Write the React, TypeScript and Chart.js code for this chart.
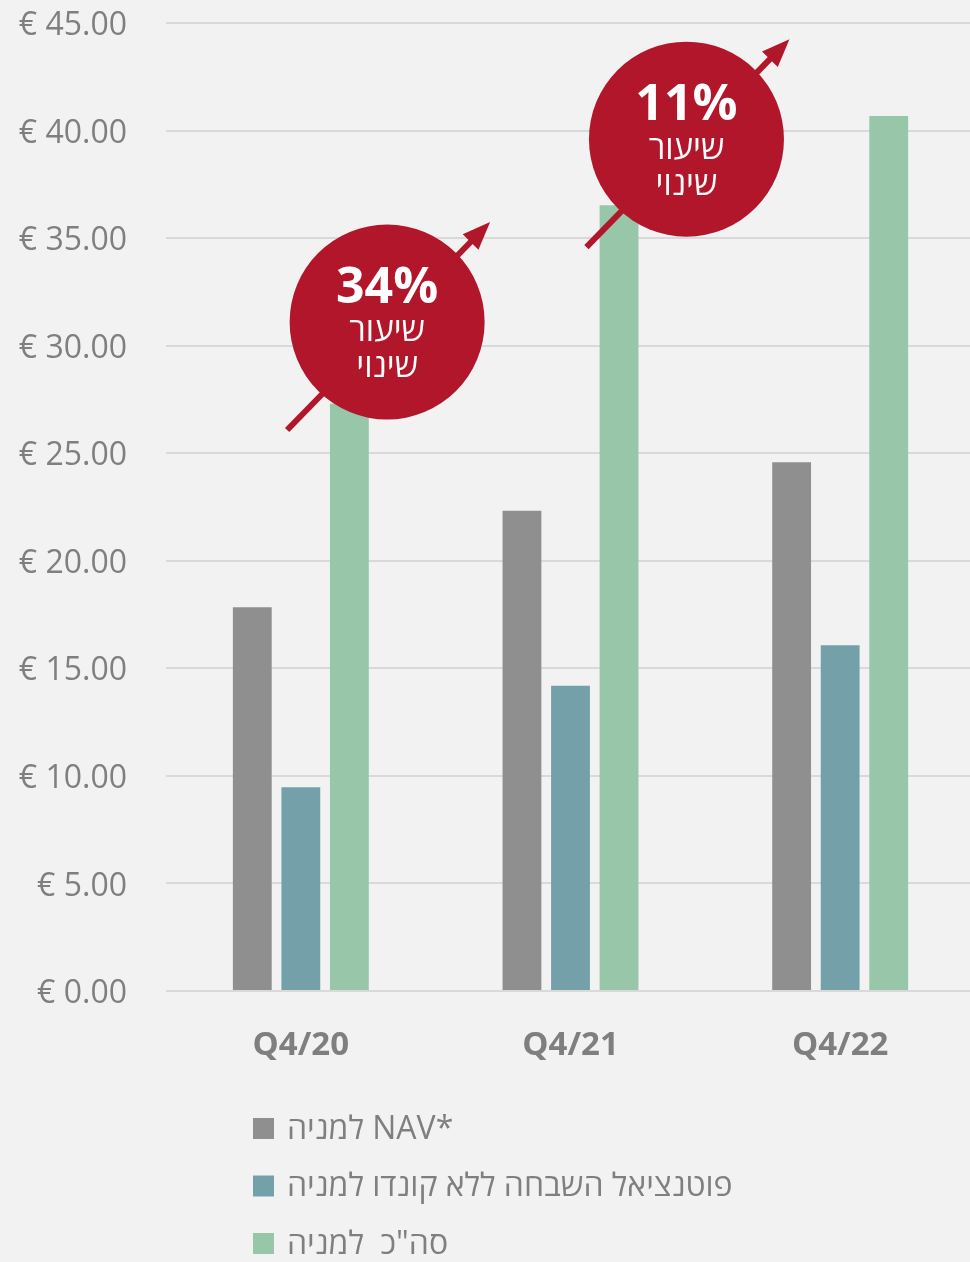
import React, { useEffect, useRef } from "react";
import { Chart, registerables } from "chart.js";

Chart.register(...registerables);

const categories = ["Q4/20", "Q4/21", "Q4/22"];
const navValues = [17.84, 22.33, 24.58];
const potentialValues = [9.47, 14.19, 16.07];
const totalValues = [27.3, 36.53, 40.68];
const seriesLabels = [
  "למניה NAV*",
  "פוטנציאל השבחה ללא קונדו למניה",
  'סה"כ  למניה',
];
const seriesColors = ["#8f8f8f", "#74a0a9", "#97c6a8"];
const yTicks = [0, 5, 10, 15, 20, 25, 30, 35, 40, 45];
const changeLabels = ["34%", "11%"];
const changeX = [0.32, 1.43];
const changeY = [31.1, 39.6];
const changeText = ["שיעור", "שינוי"];

const FONT = "'Open Sans', 'DejaVu Sans', sans-serif";
const RED = "#b2162b";

const annotationPlugin = {
  id: "changeBubbles",
  afterDatasetsDraw(chart: any) {
    const ctx = chart.ctx;
    const xs = chart.scales.x;
    const ys = chart.scales.y;
    changeLabels.forEach((lab, i) => {
      const cx = xs.getPixelForValue(changeX[i]);
      const cy = ys.getPixelForValue(changeY[i]);
      ctx.save();
      const x0 = cx - 100, y0 = cy + 108;
      const x1 = cx + 103, y1 = cy - 100;
      const ang = Math.atan2(y1 - y0, x1 - x0);
      ctx.strokeStyle = RED;
      ctx.fillStyle = RED;
      ctx.lineWidth = 6;
      ctx.beginPath();
      ctx.moveTo(x0, y0);
      ctx.lineTo(x1 - 14 * Math.cos(ang), y1 - 14 * Math.sin(ang));
      ctx.stroke();
      ctx.beginPath();
      ctx.moveTo(x1, y1);
      ctx.lineTo(x1 - 28 * Math.cos(ang) + 11 * Math.sin(ang), y1 - 28 * Math.sin(ang) - 11 * Math.cos(ang));
      ctx.lineTo(x1 - 28 * Math.cos(ang) - 11 * Math.sin(ang), y1 - 28 * Math.sin(ang) + 11 * Math.cos(ang));
      ctx.closePath();
      ctx.fill();
      ctx.beginPath();
      ctx.arc(cx, cy, 97.5, 0, Math.PI * 2);
      ctx.fill();
      ctx.fillStyle = "#ffffff";
      ctx.textAlign = "center";
      ctx.textBaseline = "middle";
      ctx.font = `bold 50px ${FONT}`;
      ctx.fillText(lab, cx, cy - 33);
      ctx.font = `33px ${FONT}`;
      ctx.fillText(changeText[0], cx, cy + 10);
      ctx.fillText(changeText[1], cx, cy + 46);
      ctx.restore();
    });
  },
};

const legendPlugin = {
  id: "stackedLegend",
  afterDraw(chart: any) {
    const ctx = chart.ctx;
    const area = chart.chartArea;
    ctx.save();
    seriesLabels.forEach((lab, i) => {
      const cy = area.bottom + 137.5 + i * 57.5;
      ctx.fillStyle = seriesColors[i];
      ctx.fillRect(253, cy - 10.5, 21, 21);
      ctx.fillStyle = "#7f7f7f";
      ctx.font = `32px ${FONT}`;
      ctx.textAlign = "left";
      ctx.textBaseline = "middle";
      ctx.fillText(lab, 287, cy + 1);
    });
    ctx.restore();
  },
};

export default function App() {
  const ref = useRef<HTMLCanvasElement>(null);
  useEffect(() => {
    if (!ref.current) return;
    const chart = new Chart(ref.current, {
      type: "bar",
      data: {
        labels: categories,
        datasets: [
          { label: seriesLabels[0], data: navValues, backgroundColor: seriesColors[0] },
          { label: seriesLabels[1], data: potentialValues, backgroundColor: seriesColors[1] },
          { label: seriesLabels[2], data: totalValues, backgroundColor: seriesColors[2] },
        ],
      },
      options: {
        responsive: false,
        animation: false,
        layout: { padding: { top: 23, left: 0, right: 1, bottom: 171 } },
        datasets: { bar: { categoryPercentage: 0.54, barPercentage: 0.8 } },
        plugins: {
          legend: { display: false },
          tooltip: { enabled: false },
        },
        scales: {
          x: {
            grid: { display: false },
            border: { display: false },
            ticks: {
              color: "#7f7f7f",
              font: { family: FONT, size: 33, weight: "bold" },
              padding: 27,
            },
            afterFit: (s: any) => {
              s.height = 100;
              s.paddingLeft = 0;
              s.paddingRight = 0;
            },
          },
          y: {
            min: 0,
            max: 45,
            afterBuildTicks: (s: any) => {
              s.ticks = yTicks.map((v) => ({ value: v }));
            },
            grid: { color: "#d9d9d9", lineWidth: 2, drawTicks: false },
            border: { display: false },
            ticks: {
              color: "#7f7f7f",
              font: { family: FONT, size: 32 },
              padding: 39,
              labelOffset: 3,
              callback: (v: any) => "€ " + Number(v).toFixed(2),
            },
            afterFit: (s: any) => {
              s.width = 166;
              s.paddingTop = 0;
              s.paddingBottom = 0;
            },
          },
        },
      },
      plugins: [annotationPlugin, legendPlugin],
    });
    return () => chart.destroy();
  }, []);
  return (
    <div
      style={{
        position: "absolute",
        left: 0,
        top: 0,
        width: 970,
        height: 1262,
        overflow: "hidden",
        background: "#f2f2f2",
      }}
    >
      <canvas ref={ref} width={976} height={1262} style={{ display: "block" }} />
    </div>
  );
}
